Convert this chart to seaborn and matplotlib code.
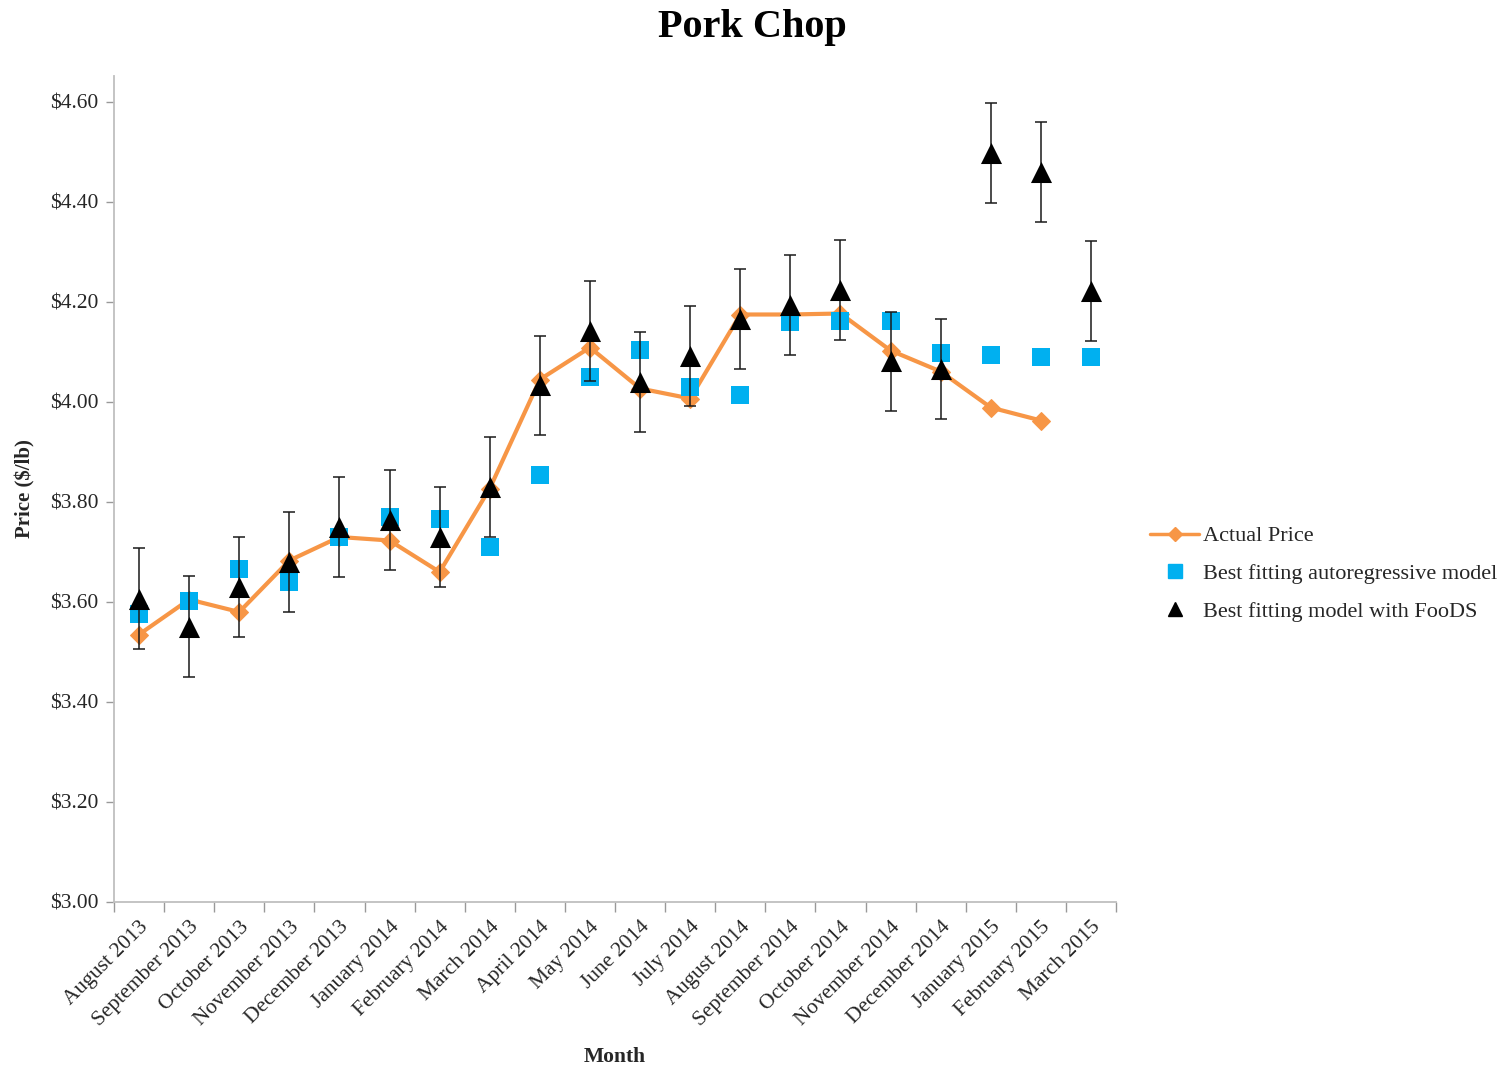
import matplotlib
matplotlib.use("Agg")
import matplotlib.pyplot as plt
from matplotlib.lines import Line2D
import seaborn as sns
import numpy as np
import pandas as pd

months = ["August 2013", "September 2013", "October 2013", "November 2013",
          "December 2013", "January 2014", "February 2014", "March 2014",
          "April 2014", "May 2014", "June 2014", "July 2014", "August 2014",
          "September 2014", "October 2014", "November 2014", "December 2014",
          "January 2015", "February 2015", "March 2015"]

actual_price = [3.535, 3.605, 3.580, 3.683, 3.730, 3.723, 3.660, 3.827,
                4.045, 4.109, 4.027, 4.007, 4.175, 4.175, 4.177, 4.103,
                4.061, 3.989, 3.963, np.nan]

autoregressive = [3.577, 3.603, 3.667, 3.641, 3.731, 3.771, 3.767, 3.711,
                  3.855, 4.049, 4.105, 4.031, 4.015, 4.161, 4.163, 4.163,
                  4.099, 4.095, 4.089, 4.091]

foods_model = [3.607, 3.551, 3.631, 3.681, 3.750, 3.764, 3.730, 3.831,
               4.033, 4.143, 4.040, 4.092, 4.166, 4.194, 4.224, 4.081,
               4.066, 4.499, 4.460, 4.222]

foods_error = [0.1] * 20

yticks = [3.00, 3.20, 3.40, 3.60, 3.80, 4.00, 4.20, 4.40, 4.60]

df = pd.DataFrame({"x": np.arange(len(months)), "month": months,
                   "actual": actual_price, "ar": autoregressive,
                   "foods": foods_model, "err": foods_error})

sns.set_theme(style="white")
plt.rcParams["font.family"] = ["Liberation Serif", "DejaVu Serif"]

W, H = 1507, 1072
fig = plt.figure(figsize=(W / 100, H / 100), dpi=100)
AX_L, AX_R, AX_T, AX_B = 114, 1116, 76, 902
ax = fig.add_axes([AX_L / W, 1 - AX_B / H, (AX_R - AX_L) / W, (AX_B - AX_T) / H])

orange = "#F79646"
blue = "#00B0F0"

sns.lineplot(data=df.dropna(subset=["actual"]), x="x", y="actual", ax=ax,
             color=orange, linewidth=3.0, marker="D", markersize=9,
             markeredgecolor=orange, zorder=2, legend=False)
sns.scatterplot(data=df, x="x", y="ar", ax=ax, color=blue, marker="s",
                s=170, edgecolor=blue, linewidth=0, zorder=3, legend=False)
ax.errorbar(df["x"], df["foods"], yerr=df["err"], fmt="none", ecolor="#1a1a1a",
            elinewidth=1.1, capsize=4, capthick=1.1, zorder=4)
sns.scatterplot(data=df, x="x", y="foods", ax=ax, color="black", marker="^",
                s=230, edgecolor="black", linewidth=0, zorder=5, legend=False)

ax.set_xlim(-0.5, len(months) - 0.5)
ax.set_ylim(3.0, 4.652)
ax.set_yticks(yticks)
ax.set_yticklabels([f"${v:.2f}" for v in yticks], fontsize=15.5, color="#262626")
ax.set_xticks(np.arange(len(months)))
ax.set_xticklabels(months, rotation=45, ha="right", rotation_mode="anchor",
                   fontsize=15.5, color="#262626")
ax.set_xticks(np.arange(-0.5, len(months), 1.0), minor=True)
ax.tick_params(axis="x", which="major", length=0, pad=11)
ax.tick_params(axis="x", which="minor", length=7, width=1, color="#999999",
               direction="out", bottom=True)
ax.tick_params(axis="y", length=6, width=1, color="#999999", direction="out",
               left=True, pad=5)

for side in ["top", "right"]:
    ax.spines[side].set_visible(False)
for side in ["left", "bottom"]:
    ax.spines[side].set_color("#BFBFBF")
    ax.spines[side].set_linewidth(1.3)

ax.set_xlabel("Month", fontsize=15.5, fontweight="bold")
ax.set_ylabel("Price ($/lb)", fontsize=15, fontweight="bold")
ax.xaxis.set_label_coords(0.5, -(1057 - AX_B) / (AX_B - AX_T))
ax.xaxis.label.set_va("center")
ax.yaxis.set_label_coords(-(AX_L - 25) / (AX_R - AX_L), 0.5)
ax.yaxis.label.set_va("center")

fig.text(752 / W, 1 - 28 / H, "Pork Chop", ha="center", va="center",
         fontsize=29, fontweight="bold", color="black")

handles = [
    Line2D([0], [0], color=orange, linewidth=2.5, marker="D", markersize=7),
    Line2D([0], [0], color=blue, linestyle="none", marker="s", markersize=10),
    Line2D([0], [0], color="black", linestyle="none", marker="^", markersize=10),
]
labels = ["Actual Price", "Best fitting autoregressive model",
          "Best fitting model with FooDS"]
fig.legend(handles, labels, loc="center left",
           bbox_to_anchor=(1146 / W, 1 - 574 / H), frameon=False,
           fontsize=16, handlelength=2.2, handletextpad=0.15, labelspacing=0.78,
           borderpad=0.2, borderaxespad=0)

fig.savefig("out.png", dpi=100)
